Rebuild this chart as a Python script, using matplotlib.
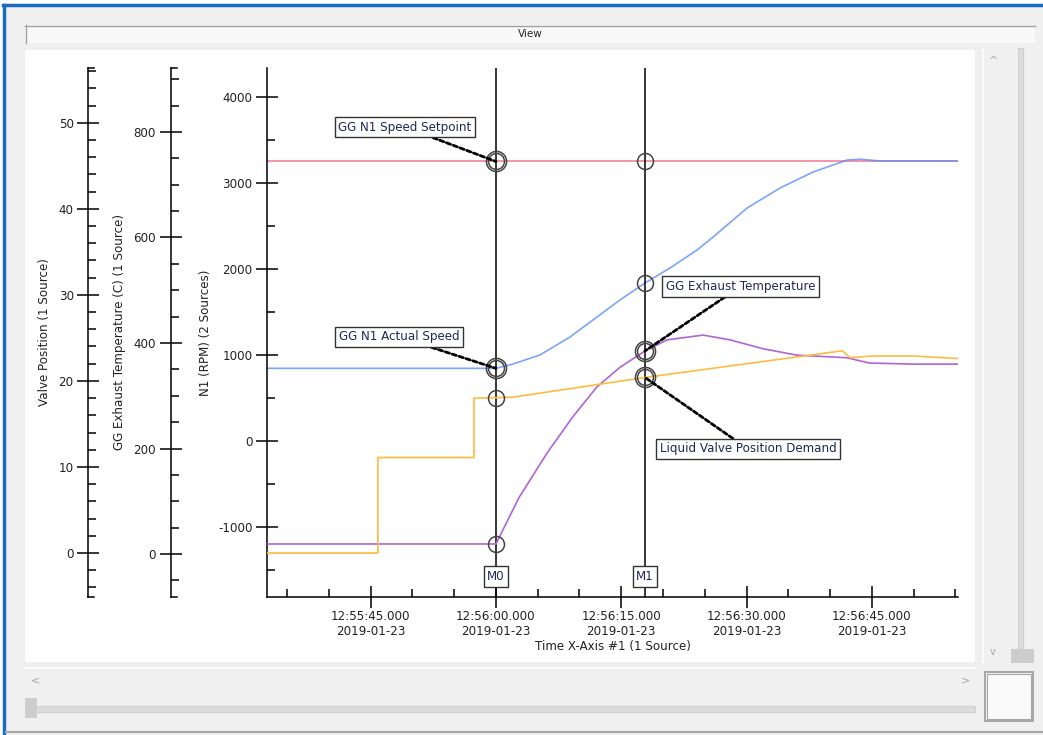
import matplotlib
matplotlib.use("Agg")
import matplotlib.pyplot as plt
import matplotlib.transforms as mtransforms
from matplotlib.patches import Rectangle
from matplotlib.lines import Line2D
from matplotlib.ticker import MultipleLocator
import numpy as np

W, H = 1043, 735

# time in seconds relative to 12:56:00.000 (2019-01-23)
t_setpoint = [-27.4, 55.3]
n1_setpoint = [3250, 3250]

t_actual = [-27.4, 0.0, 2.04, 5.27, 8.86, 12.10, 14.85, 17.84, 20.84, 24.07,
            25.99, 30.06, 34.01, 37.96, 42.04, 43.59, 45.99, 55.3]
n1_actual = [845, 845, 895, 1000, 1209, 1442, 1640, 1837, 2012, 2221,
             2372, 2709, 2942, 3128, 3267, 3276, 3256, 3256]

t_temp = [-27.4, 0.0, 1.25, 2.8, 6.1, 9.2, 12.1, 14.85, 17.84, 20.5,
          24.8, 28.0, 32.0, 36.0, 42.0, 44.7, 49.9, 55.3]
exhaust_temp = [19, 19, 59, 108, 191, 260, 317, 354, 385, 406,
                415, 406, 389, 377, 372, 362, 360, 360]

t_valve = [-27.4, -14.13, -14.13, -2.63, -2.63, 1.92, 17.84, 41.44,
           42.4, 45.1, 49.9, 55.3]
valve_pos = [0.0, 0.0, 11.1, 11.1, 18.0, 18.1, 20.4, 23.5,
             22.7, 22.9, 22.9, 22.6]

marker_times = [0.0, 17.84]
marker_names = ["M0", "M1"]

xtick_secs = [-15, 0, 15, 30, 45]
xtick_labels = ["12:55:45.000\n2019-01-23", "12:56:00.000\n2019-01-23",
                "12:56:15.000\n2019-01-23", "12:56:30.000\n2019-01-23",
                "12:56:45.000\n2019-01-23"]

plt.rcParams['font.family'] = ['DejaVu Sans']
plt.rcParams['axes.unicode_minus'] = False
FS = 8.6
TXT = '#222222'

fig = plt.figure(figsize=(W / 100, H / 100), dpi=100)
fig.patch.set_facecolor('white')


def px_rect(x0, y0, x1, y1, **kw):
    kw.setdefault('zorder', -10)
    fig.add_artist(Rectangle((x0 / W, 1 - y1 / H), (x1 - x0) / W, (y1 - y0) / H,
                             transform=fig.transFigure, **kw))


def px_line(xs, ys, **kw):
    kw.setdefault('zorder', -9)
    fig.add_artist(Line2D([x / W for x in xs], [1 - y / H for y in ys],
                          transform=fig.transFigure, **kw))


def px_text(x, y, s, **kw):
    fig.text(x / W, 1 - y / H, s, ha='center', va='center', **kw)


# ---- window chrome ----
px_rect(5, 5, W, H, fc='#f0f0f0', ec='none')
px_line([4, 4], [5, H], color='#1a6cc0', lw=2.5)
px_line([3, W], [5, 5], color='#1a6cc0', lw=2.5)
px_line([6, W], [732, 732], color='#a8a8a8', lw=1.5)
# header
px_rect(25, 25, 1035, 43, fc='#f9f9f9', ec='none')
px_line([25, 1035], [25.5, 25.5], color='#a0a0a0', lw=1)
px_line([25.5, 25.5], [25, 43], color='#a0a0a0', lw=1)
px_text(530, 34, "View", fontsize=7.5, color=TXT)
# plot panel
px_rect(25, 50, 975, 662, fc='white', ec='none')
# vertical scroll area
px_line([983, 983], [50, 662], color='white', lw=1.2)
px_rect(1018, 48, 1023, 662, fc='#dcdcdc', ec='#cfcfcf', lw=0.8)
px_rect(1011, 649, 1034, 663, fc='#cdcdcd', ec='none', zorder=-8)
px_text(993, 61, "^", fontsize=8, color='#a8a8a8')
px_text(993, 652, "v", fontsize=7, color='#a8a8a8')
# horizontal scroll area
px_line([25, 975], [668, 668], color='white', lw=1.2)
px_rect(30, 706, 975, 712, fc='#dcdcdc', ec='#cfcfcf', lw=0.8)
px_rect(25, 698, 37, 718, fc='#cdcdcd', ec='none', zorder=-8)
px_text(35, 680, "<", fontsize=8, color='#a8a8a8')
px_text(966, 680, ">", fontsize=8, color='#a8a8a8')
# corner box
px_rect(984, 671, 1034, 722, fc='#a8a8a8', ec='none')
px_rect(986, 673, 1032, 720, fc='#f0f0f0', ec='none', zorder=-9)
px_rect(987, 674, 1031, 719, fc='#fafafa', ec='#a8a8a8', lw=0.8, zorder=-8)

# ---- plot ----
ax_l, ax_r, ax_t0, ax_b = 267, 958, 68, 597
ax = fig.add_axes([ax_l / W, 1 - ax_b / H, (ax_r - ax_l) / W, (ax_b - ax_t0) / H])
ax.patch.set_visible(False)
aw = ax_r - ax_l

ax.set_xlim(-27.4, 55.3)
ax.set_ylim(-1814, 4337)

ax_temp = ax.twinx()
ax_temp.set_ylim(-81.5, 921.3)
ax_valve = ax.twinx()
ax_valve.set_ylim(-5.11, 56.36)

for a in (ax, ax_temp, ax_valve):
    for s in ('top', 'right'):
        a.spines[s].set_visible(False)
    a.spines['left'].set_linewidth(1.1)
    a.tick_params(axis='both', which='major', direction='inout', length=16,
                  width=1.1, labelsize=FS, labelcolor=TXT, pad=2.5)
    a.tick_params(axis='both', which='minor', direction='in', length=6, width=1.1)

for a, xpix in ((ax_temp, 170.7), (ax_valve, 88.3)):
    a.spines['bottom'].set_visible(False)
    a.spines['left'].set_visible(True)
    a.spines['left'].set_position(('axes', (xpix - ax_l) / aw))
    a.yaxis.set_ticks_position('left')
    a.yaxis.set_label_position('left')
    a.tick_params(axis='x', which='both', bottom=False, labelbottom=False)
    # end caps of the extra axes
    cap_x = [(xpix - ax_l) / aw, (xpix - ax_l + 6) / aw]
    for yy in (0, 1):
        a.add_line(Line2D(cap_x, [yy, yy], transform=a.transAxes, color='black',
                          lw=1.1, clip_on=False))

ax.spines['bottom'].set_linewidth(1.1)
ax.yaxis.set_major_locator(MultipleLocator(1000))
ax.yaxis.set_minor_locator(MultipleLocator(500))
ax_temp.yaxis.set_major_locator(MultipleLocator(200))
ax_temp.yaxis.set_minor_locator(MultipleLocator(50))
ax_valve.yaxis.set_major_locator(MultipleLocator(10))
ax_valve.yaxis.set_minor_locator(MultipleLocator(2))
ax.set_xticks(xtick_secs)
ax.set_xticklabels(xtick_labels, linespacing=1.15)
ax.xaxis.set_minor_locator(MultipleLocator(5))
ax.tick_params(axis='x', which='major', pad=1.5)

ax.set_ylabel("N1 (RPM) (2 Sources)", fontsize=FS, color=TXT)
ax.yaxis.set_label_coords((212 - ax_l) / aw, 0.5)
ax_temp.set_ylabel("GG Exhaust Temperature (C) (1 Source)", fontsize=FS, color=TXT)
ax_temp.yaxis.set_label_coords((126 - ax_l) / aw, 0.5)
ax_valve.set_ylabel("Valve Position (1 Source)", fontsize=FS, color=TXT)
ax_valve.yaxis.set_label_coords((51 - ax_l) / aw, 0.5)
ax.set_xlabel("Time X-Axis #1 (1 Source)", fontsize=FS, color=TXT)
ax.xaxis.set_label_coords(0.5, (ax_b - 640) / (ax_b - ax_t0))

# series
ax.plot(t_setpoint, n1_setpoint, color='#f07890', lw=1.3, alpha=0.85)
ax.plot(t_actual, n1_actual, color='#5b8ff9', lw=1.2, alpha=0.8)
ax_temp.plot(t_temp, exhaust_temp, color='#b064d6', lw=1.2)
ax_valve.plot(t_valve, valve_pos, color='#ffbb40', lw=1.2)

# cursors
blend = mtransforms.blended_transform_factory(ax.transData, ax.transAxes)
for mt, name in zip(marker_times, marker_names):
    ax.axvline(mt, color='black', lw=1.1)
    ax.text(mt, (ax_b - 576.5) / (ax_b - ax_t0), name, transform=blend,
            ha='center', va='center', fontsize=FS, color='#1c2a55',
            bbox=dict(boxstyle='square,pad=0.3', fc='white', ec='#333333', lw=1))

# cursor circles
series = [(ax, t_setpoint, n1_setpoint, (True, False)),
          (ax, t_actual, n1_actual, (True, False)),
          (ax_temp, t_temp, exhaust_temp, (False, True)),
          (ax_valve, t_valve, valve_pos, (False, True))]
for a, tx, vy, dbl in series:
    for mt, d in zip(marker_times, dbl):
        v = np.interp(mt, tx, vy)
        a.plot([mt], [v], 'o', ms=11.5, mfc='none', mec='#444444', mew=1.1, zorder=5)
        if d:
            a.plot([mt], [v], 'o', ms=14.5, mfc='none', mec='#444444', mew=1.1, zorder=5)

# annotations (drawn on the top-most axes)
notes = [("GG N1 Speed Setpoint", ax, t_setpoint, n1_setpoint, 0, (-65.5, 24.8)),
         ("GG N1 Actual Speed", ax, t_actual, n1_actual, 0, (-69.8, 22.7)),
         ("GG Exhaust Temperature", ax_temp, t_temp, exhaust_temp, 1, (68.8, 46.4)),
         ("Liquid Valve Position Demand", ax_valve, t_valve, valve_pos, 1, (74.2, -51.5))]
for label, a, tx, vy, mi, off in notes:
    mt = marker_times[mi]
    v = np.interp(mt, tx, vy)
    ax_valve.annotate(label, xy=(mt, v), xycoords=a.transData,
                      xytext=off, textcoords='offset points',
                      ha='center', va='center', fontsize=FS, color='#1c2a55',
                      bbox=dict(boxstyle='square,pad=0.3', fc='white', ec='#333333', lw=1),
                      arrowprops=dict(arrowstyle='-', color='black', lw=2,
                                      linestyle=(0, (1.6, 1.0)),
                                      shrinkA=0, shrinkB=0),
                      zorder=6)

fig.savefig("out.png", dpi=100)
